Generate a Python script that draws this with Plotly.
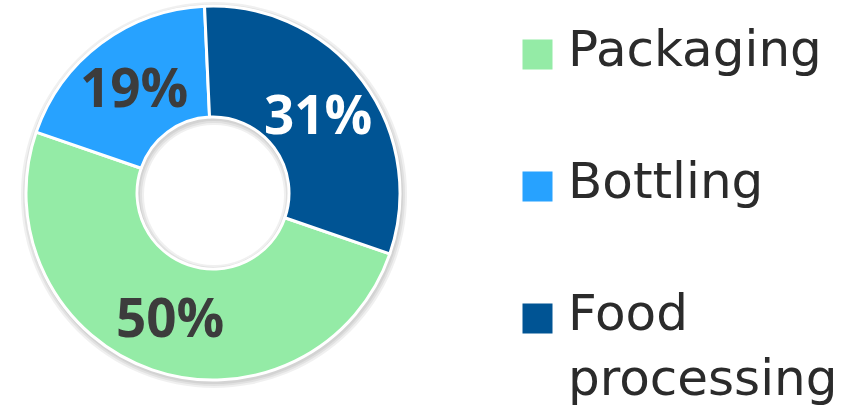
import math
import plotly.graph_objects as go

# ---- data ----
categories = ["Packaging", "Bottling", "Food processing"]
shares = [50, 19, 31]
colors = ["#94EBA6", "#27A2FF", "#005494"]
label_colors = ["#3c3c3c", "#3c3c3c", "#ffffff"]

W, H = 846, 419
cx, cy, R, r_in = 213, 193, 187, 76
ROT = 109

def dom(cx_, cy_, rad):
    return dict(x=[max(0, (cx_ - rad) / W), min(1, (cx_ + rad) / W)],
                y=[max(0, (H - cy_ - rad) / H), min(1, (H - cy_ + rad) / H)])

fig = go.Figure()

# soft shadow layers (decorative)
for k in [2, 4, 6]:
    fig.add_trace(go.Pie(
        values=[1], labels=["shadow"], sort=False,
        hole=(r_in - k) / (R + k),
        domain=dom(cx + 1, cy + 2, R + k),
        marker=dict(colors=["rgba(0,0,0,0.06)"], line=dict(width=0)),
        textinfo="none", hoverinfo="skip", showlegend=False,
    ))

fig.add_trace(go.Pie(
    labels=categories, values=shares, sort=False,
    direction="clockwise", rotation=ROT,
    hole=r_in / R,
    domain=dom(cx, cy, R),
    marker=dict(colors=colors, line=dict(color="white", width=3)),
    textinfo="none",
    hoverinfo="label+percent", showlegend=False,
))

annotations = []

# percentage labels at each slice's mid-angle, computed from the data
total = sum(shares)
rt = (R + r_in) / 2
cum = 0
for s, tc in zip(shares, label_colors):
    mid = math.radians(ROT + (cum + s / 2) / total * 360)
    cum += s
    x = cx + rt * math.sin(mid)
    y = cy - rt * math.cos(mid)
    annotations.append(dict(
        x=x / W, y=1 - (y - 1) / H, xref="paper", yref="paper",
        xanchor="center", yanchor="middle", showarrow=False,
        text=f"{round(100 * s / total)}%",
        font=dict(family="Open Sans", size=53, color=tc, weight="bold"),
    ))

# legend drawn as annotations built from the data lists
y0, step = 54, 132
for i, (cat, col) in enumerate(zip(categories, colors)):
    yc = y0 + i * step
    annotations.append(dict(
        x=(523 + 14.5) / W, y=1 - yc / H, xref="paper", yref="paper",
        xanchor="center", yanchor="middle", text=" ", showarrow=False,
        width=29, height=29, bgcolor=col, borderpad=0,
    ))
    annotations.append(dict(
        x=566 / W, y=1 - (yc - 36) / H, xref="paper", yref="paper",
        xanchor="left", yanchor="top", align="left", showarrow=False,
        text=cat.replace("Food ", "Food<br>"),
        font=dict(family="DejaVu Sans", size=50, color="#2b2b2b"),
    ))

fig.update_layout(
    width=W, height=H, margin=dict(l=0, r=0, t=0, b=0),
    paper_bgcolor="white", plot_bgcolor="white",
    annotations=annotations,
)

fig.write_html("out.html", config={"displayModeBar": False},
               post_script="document.body.style.margin='0';")
